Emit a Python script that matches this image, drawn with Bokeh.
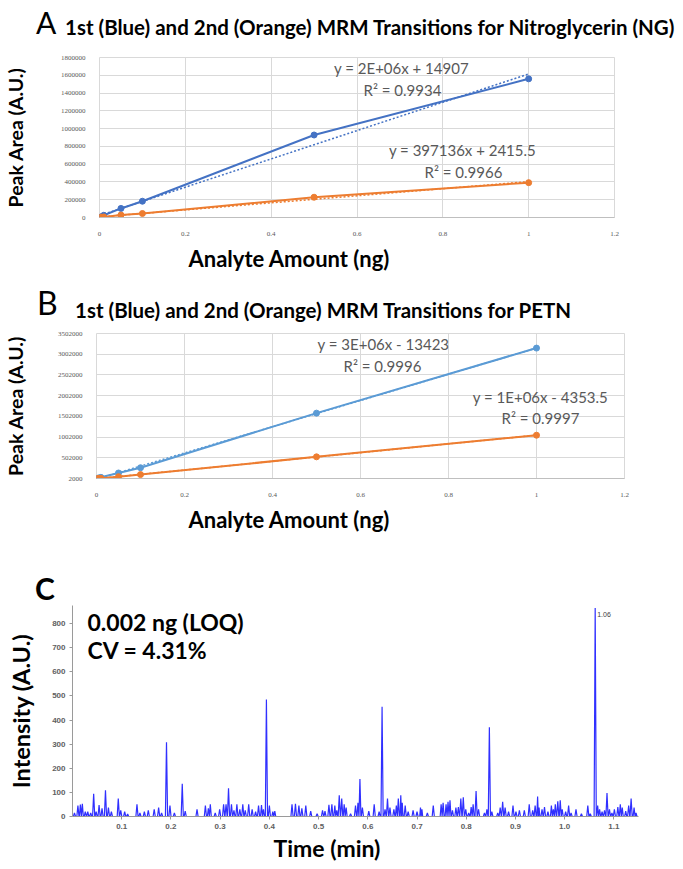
from bokeh.plotting import figure
from bokeh.layouts import column
from bokeh.models import (Label, FixedTicker, CustomJSTickFormatter, BasicTickFormatter, Range1d,
                          PrintfTickFormatter, Title, Div)
from bokeh.embed import file_html
from bokeh.resources import INLINE
import numpy as np

# ---------------- data ----------------
amount_ng = [0.002, 0.005, 0.01, 0.05, 0.1, 0.5, 1.0]
ng_trans1 = [4000, 9000, 25000, 102000, 183000, 928000, 1560000]
ng_trans2 = [1500, 3000, 6000, 28000, 45000, 228000, 392000]
petn_trans1 = [5000, 15000, 30000, 135000, 262000, 1580000, 3150000]
petn_trans2 = [1000, 2000, 6000, 45000, 97000, 525000, 1047000]

ng_eq = ["y = 2E+06x + 14907", "R\u00b2 = 0.9934", "y = 397136x + 2415.5", "R\u00b2 = 0.9966"]
petn_eq = ["y = 3E+06x - 13423", "R\u00b2 = 0.9996", "y = 1E+06x - 4353.5", "R\u00b2 = 0.9997"]

x_ticks_ab = [0, 0.2, 0.4, 0.6, 0.8, 1.0, 1.2]
y_ticks_a = [0, 200000, 400000, 600000, 800000, 1000000, 1200000, 1400000, 1600000, 1800000]
y_ticks_b = [2000, 502000, 1002000, 1502000, 2002000, 2502000, 3002000, 3502000]

# chromatogram spikes (apex time in min, intensity)
spike_t = [0.004, 0.011, 0.016, 0.020, 0.026, 0.031, 0.037, 0.043, 0.048, 0.054, 0.060, 0.067, 0.073, 0.079,
           0.093, 0.098, 0.106, 0.112, 0.131, 0.137, 0.146, 0.154, 0.166, 0.175, 0.181, 0.191, 0.198, 0.207,
           0.223, 0.229, 0.253, 0.270, 0.276, 0.280, 0.290, 0.299, 0.307, 0.312, 0.317, 0.323, 0.328, 0.334,
           0.340, 0.346, 0.351, 0.358, 0.365, 0.372, 0.378, 0.384, 0.388, 0.394, 0.400, 0.407, 0.411,
           0.446, 0.453, 0.460, 0.466, 0.474, 0.484, 0.497, 0.508, 0.513, 0.521, 0.527, 0.533, 0.537, 0.542,
           0.547, 0.552, 0.556, 0.565, 0.575, 0.580, 0.584, 0.589, 0.602, 0.613, 0.623, 0.629, 0.635, 0.640,
           0.645, 0.653, 0.658, 0.662, 0.667, 0.670, 0.676, 0.682, 0.692, 0.700, 0.707, 0.710, 0.721, 0.733,
           0.749, 0.753, 0.759, 0.763, 0.767, 0.772, 0.779, 0.784, 0.789, 0.794, 0.799, 0.805, 0.810, 0.814,
           0.820, 0.825, 0.837, 0.842, 0.847, 0.852, 0.864, 0.869, 0.874, 0.879, 0.886, 0.895, 0.901, 0.908,
           0.918, 0.928, 0.935, 0.940, 0.945, 0.948, 0.954, 0.959, 0.966, 0.973, 0.977, 0.981, 0.986, 0.991,
           0.995, 1.002, 1.008, 1.013, 1.023, 1.034, 1.047, 1.052, 1.062, 1.067, 1.071, 1.076, 1.081, 1.086,
           1.091, 1.096, 1.101, 1.108, 1.113, 1.117, 1.124, 1.130, 1.135, 1.141, 1.145]
spike_h = [15, 45, 50, 53, 20, 20, 15, 94, 20, 47, 34, 109, 37, 20,
           75, 26, 20, 10, 51, 15, 20, 26, 30, 37, 15, 308, 45, 15,
           136, 22, 30, 45, 34, 51, 15, 30, 51, 51, 117, 51, 26, 51,
           30, 51, 26, 51, 30, 20, 45, 47, 30, 485, 45, 20, 22,
           51, 53, 45, 34, 45, 22, 12, 26, 22, 49, 51, 45, 26, 88,
           75, 51, 37, 12, 45, 57, 155, 37, 22, 51, 20, 455, 30, 75,
           37, 30, 45, 75, 88, 57, 45, 20, 26, 20, 37, 30, 15, 45,
           51, 57, 51, 61, 67, 26, 37, 39, 75, 80, 30, 15, 39, 51,
           106, 30, 15, 30, 370, 20, 15, 37, 61, 37, 20, 45, 20, 26,
           26, 51, 26, 45, 83, 37, 30, 39, 20, 45, 30, 51, 63, 67,
           30, 20, 45, 15, 30, 12, 45, 12, 865, 45, 30, 20, 26, 97,
           30, 15, 30, 39, 51, 37, 22, 45, 75, 37, 15]
c_y_ticks = [0, 100, 200, 300, 400, 500, 600, 700, 800]
c_x_ticks = [0.1, 0.2, 0.3, 0.4, 0.5, 0.6, 0.7, 0.8, 0.9, 1.0, 1.1]

BLUE_A = "#4472c4"
BLUE_B = "#5b9bd5"
ORANGE = "#ed7d31"
GRAY_TXT = "#595959"
GRID = "#d9d9d9"
HEAD_FONT = "Lato"
W = 667


def panel(height, left, right, top, bottom, xr, yr):
    p = figure(width=W, height=height, x_range=Range1d(*xr), y_range=Range1d(*yr),
               output_backend="svg", toolbar_location=None, title=None,
               min_border_left=left, min_border_right=right,
               min_border_top=top, min_border_bottom=bottom)
    p.frame_align = False
    p.background_fill_color = "white"
    p.border_fill_color = "white"
    return p


def lab(p, fl, fb, px, py, text, size, bold=False, color="black", align="left", font=HEAD_FONT):
    p.add_layout(Label(x=px - fl, y=fb - py, x_units="screen", y_units="screen", text=text,
                       text_font=font, text_font_size=f"{size}px",
                       text_font_style="bold" if bold else "normal", text_color=color,
                       text_align=align, text_baseline="middle"))


def header(height, letter, letter_px, letter_bold, letter_left, letter_top, title, title_left, title_top):
    lw = "bold" if letter_bold else "normal"
    html = (f'<div style="position:relative;width:{W}px;height:{height}px;font-family:Lato;color:black;">'
            f'<span style="position:absolute;left:{letter_left}px;top:{letter_top}px;font-size:{letter_px}px;'
            f'line-height:{letter_px}px;font-weight:{lw};">{letter}</span>')
    if title:
        html += (f'<span style="position:absolute;left:{title_left}px;top:{title_top}px;font-size:20.5px;'
                 f'line-height:20px;font-weight:bold;white-space:nowrap;">{title}</span>')
    html += '</div>'
    return Div(text=html, width=W, height=height, margin=0)


def xlabel(p, text, offset, standoff, size):
    p.add_layout(Title(text=text, align="left", offset=offset, standoff=standoff, text_font=HEAD_FONT,
                       text_font_size=f"{size}px", text_font_style="bold", text_color="black"), "below")


def ylabel(ax, text, size, standoff):
    ax.axis_label = text
    ax.axis_label_text_font = HEAD_FONT
    ax.axis_label_text_font_size = f"{size}px"
    ax.axis_label_text_font_style = "bold"
    ax.axis_label_text_color = "black"
    ax.axis_label_standoff = standoff


def excel_style(p, yticks, ylabel_standoff):
    p.xaxis.ticker = FixedTicker(ticks=x_ticks_ab)
    p.yaxis.ticker = FixedTicker(ticks=yticks)
    p.xaxis.formatter = CustomJSTickFormatter(code="return String(Math.round(tick*10)/10)")
    p.yaxis.formatter = BasicTickFormatter(use_scientific=False)
    for ax in (p.xaxis, p.yaxis):
        ax.major_tick_line_color = None
        ax.minor_tick_line_color = None
        ax.major_label_text_font = "Liberation Serif"
        ax.major_label_text_font_size = "7px"
        ax.major_label_text_color = GRAY_TXT
    p.yaxis.axis_line_color = None
    p.xaxis.axis_line_color = "#bfbfbf"
    p.xaxis.major_label_standoff = 8
    p.yaxis.major_label_standoff = 8
    ylabel(p.yaxis, "Peak Area (A.U.)", 19.5, ylabel_standoff)
    p.grid.grid_line_color = GRID
    p.outline_line_color = GRID


def series(p, xs, ys, color):
    p.line(xs, ys, color=color, line_width=2)
    p.scatter(xs, ys, size=6, color=color)
    k, b = np.polyfit(xs, ys, 1)
    tx = np.array([min(xs), max(xs)])
    p.line(tx, k * tx + b, color=color, line_width=1.5, line_dash="2 2")


# ---------------- Panel A ----------------
div_a = header(40, "A", 30, False, 36, 7,
               "1st (Blue) and 2nd (Orange) MRM Transitions for Nitroglycerin (NG)", 65, 17)
pa = panel(238, 97, 53, 17, 61, (0, 1.2), (0, 1800000))
excel_style(pa, y_ticks_a, 31)
xlabel(pa, "Analyte Amount (ng)", 89, 9, 22)
series(pa, amount_ng, ng_trans1, BLUE_A)
series(pa, amount_ng, ng_trans2, ORANGE)
fa, ba = 97, 217
lab(pa, fa, ba, 399, 67, ng_eq[0], 15, color=GRAY_TXT, align="center")
lab(pa, fa, ba, 400, 89, ng_eq[1], 15, color=GRAY_TXT, align="center")
lab(pa, fa, ba, 460, 149, ng_eq[2], 15, color=GRAY_TXT, align="center")
lab(pa, fa, ba, 461, 171, ng_eq[3], 15, color=GRAY_TXT, align="center")

# ---------------- Panel B ----------------
div_b = header(46, "B", 32, False, 37, 9,
               "1st (Blue) and 2nd (Orange) MRM Transitions for PETN", 75, 22)
pb = panel(224, 94, 43, 9, 70, (0, 1.2), (2000, 3502000))
excel_style(pb, y_ticks_b, 28)
xlabel(pb, "Analyte Amount (ng)", 92, 9, 22)
series(pb, amount_ng, petn_trans1, BLUE_B)
series(pb, amount_ng, petn_trans2, ORANGE)
fb_, bb = 94, 478
lab(pb, fb_, bb, 381, 343, petn_eq[0], 15, color=GRAY_TXT, align="center")
lab(pb, fb_, bb, 380, 365, petn_eq[1], 15, color=GRAY_TXT, align="center")
lab(pb, fb_, bb, 538, 396, petn_eq[2], 15, color=GRAY_TXT, align="center")
lab(pb, fb_, bb, 538, 417, petn_eq[3], 15, color=GRAY_TXT, align="center")

# ---------------- Panel C ----------------
div_c = header(55, "C", 30, True, 35, 25, "", 0, 0)
pc = panel(258, 72, 29, 2, 44, (0, 1.15), (0, 875))
trace_x, trace_y = [0.0], [0.0]
n = len(spike_t)
for i in range(n):
    t = spike_t[i]
    gl = t - spike_t[i - 1] if i > 0 else 0.01
    gr = spike_t[i + 1] - t if i < n - 1 else 0.01
    w = min(0.0022, gl / 2, gr / 2)
    trace_x += [t - w, t, t + w]
    trace_y += [0, spike_h[i], 0]
pc.line(trace_x, trace_y, color="#3030ff", line_width=1.2)
pc.xaxis.ticker = FixedTicker(ticks=c_x_ticks)
pc.yaxis.ticker = FixedTicker(ticks=c_y_ticks)
pc.xaxis.formatter = PrintfTickFormatter(format="%.1f")
pc.grid.grid_line_color = None
pc.outline_line_color = None
for ax in (pc.xaxis, pc.yaxis):
    ax.axis_line_color = "#9a9a9a"
    ax.major_tick_line_color = "#9a9a9a"
    ax.major_tick_out = 3
    ax.major_tick_in = 0
    ax.minor_tick_line_color = None
    ax.major_label_text_font = "Liberation Sans"
    ax.major_label_text_font_style = "bold"
    ax.major_label_text_font_size = "8px"
    ax.major_label_text_color = "#606060"
    ax.major_label_standoff = 4
ylabel(pc.yaxis, "Intensity (A.U.)", 23.5, 14)
xlabel(pc, "Time (min)", 201, 0, 23)
fc, bc = 72, 817
lab(pc, fc, bc, 87, 622, "0.002 ng (LOQ)", 23, bold=True)
lab(pc, fc, bc, 87, 650, "CV = 4.31%", 23, bold=True)
pc.add_layout(Label(x=1.066, y=838, text="1.06", text_font="Liberation Sans", text_font_size="7px",
                    text_color="#404040", text_baseline="middle"))

layout = column(div_a, pa, div_b, pb, div_c, pc, spacing=0)
open("out.html", "w").write(file_html(layout, INLINE))
